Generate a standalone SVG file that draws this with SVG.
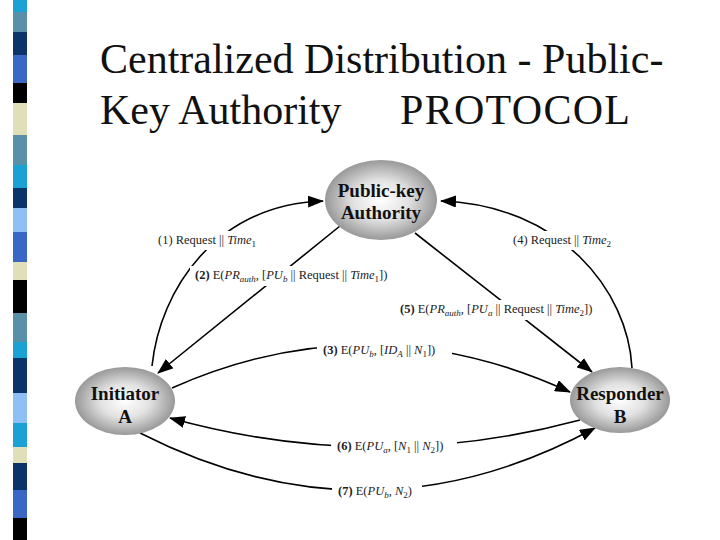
<svg xmlns="http://www.w3.org/2000/svg" width="720" height="540" viewBox="0 0 720 540">
<style>
.title{font-family:"Liberation Serif","Times New Roman",serif;font-size:42px;fill:#111}
.node text{font-family:"Liberation Serif","Times New Roman",serif;font-weight:bold;font-size:19px;fill:#111;text-anchor:middle}
.conn path{fill:none;stroke:#000;stroke-width:1.6}
.lbl{font-family:"Liberation Serif","Times New Roman",serif;font-size:12.5px;fill:#222}
.b{font-weight:bold}
.i{font-style:italic}
.sub{font-size:9px}
</style>
<defs>
<radialGradient id="g" cx="50%" cy="50%" r="55%">
<stop offset="0" stop-color="#ffffff"/>
<stop offset="0.45" stop-color="#e2e2e2"/>
<stop offset="1" stop-color="#8a8a8a"/>
</radialGradient>
<marker id="ah" markerUnits="userSpaceOnUse" markerWidth="16" markerHeight="12" refX="15" refY="6" orient="auto">
<path d="M0,0 L16,6 L0,12 Z" fill="#000"/>
</marker>
<mask id="gaps" maskUnits="userSpaceOnUse" x="0" y="0" width="720" height="540">
<rect width="720" height="540" fill="#fff"/>
<rect x="154" y="231" width="115" height="19" fill="#000"/>
<rect x="190" y="266" width="208" height="20" fill="#000"/>
<rect x="508" y="231" width="112" height="19" fill="#000"/>
<rect x="395" y="300" width="206" height="20" fill="#000"/>
<rect x="317" y="341" width="135" height="20" fill="#000"/>
<rect x="331" y="437" width="126" height="20" fill="#000"/>
<rect x="332" y="482" width="90" height="20" fill="#000"/>
</mask>
</defs>
<rect width="720" height="540" fill="#fff"/>
<g id="stripe">
<rect x="13" y="0" width="14" height="12" fill="#1ba1d4"/>
<rect x="13" y="12" width="14" height="20" fill="#5a8fa8"/>
<rect x="13" y="32" width="14" height="23" fill="#0b3468"/>
<rect x="13" y="55" width="14" height="28" fill="#3a66c4"/>
<rect x="13" y="83" width="14" height="20" fill="#000"/>
<rect x="13" y="103" width="14" height="32" fill="#e0dfb8"/>
<rect x="13" y="135" width="14" height="30" fill="#5a8fa8"/>
<rect x="13" y="165" width="14" height="23" fill="#1ba1d4"/>
<rect x="13" y="188" width="14" height="20" fill="#0b3468"/>
<rect x="13" y="208" width="14" height="24" fill="#8fc0f5"/>
<rect x="13" y="232" width="14" height="30" fill="#3a66c4"/>
<rect x="13" y="262" width="14" height="18" fill="#e0dfb8"/>
<rect x="13" y="280" width="14" height="33" fill="#000"/>
<rect x="13" y="313" width="14" height="29" fill="#5a8fa8"/>
<rect x="13" y="342" width="14" height="16" fill="#1ba1d4"/>
<rect x="13" y="358" width="14" height="35" fill="#0b3468"/>
<rect x="13" y="393" width="14" height="30" fill="#8fc0f5"/>
<rect x="13" y="423" width="14" height="24" fill="#1ba1d4"/>
<rect x="13" y="447" width="14" height="16" fill="#e0dfb8"/>
<rect x="13" y="463" width="14" height="27" fill="#0b3468"/>
<rect x="13" y="490" width="14" height="28" fill="#3a66c4"/>
<rect x="13" y="518" width="14" height="22" fill="#000"/>
</g>
<text class="title" x="100" y="73">Centralized Distribution - Public-</text>
<text class="title" x="100" y="124">Key Authority</text>
<text class="title" x="400" y="124" textLength="230">PROTOCOL</text>
<g class="conn" id="connectors" mask="url(#gaps)">
<path d="M152,366 C160,290 215,205 323,201" marker-end="url(#ah)"/>
<path d="M632,368 C628,290 560,205 441,201" marker-end="url(#ah)"/>
<path d="M340,226 L158,373" marker-end="url(#ah)"/>
<path d="M415,233 L592,372" marker-end="url(#ah)"/>
<path d="M172,388 Q370,300 570,392" marker-end="url(#ah)"/>
<path d="M580,420 Q375,475 170,418" marker-end="url(#ah)"/>
<path d="M140,433 Q370,550 595,428" marker-end="url(#ah)"/>
</g>
<g id="authority" class="node">
<ellipse cx="381" cy="200" rx="56" ry="40" fill="url(#g)"/>
<text x="381" y="197">Public-key</text>
<text x="381" y="219">Authority</text>
</g>
<g id="initiator" class="node">
<ellipse cx="125" cy="401" rx="50" ry="34" fill="url(#g)"/>
<text x="125" y="400">Initiator</text>
<text x="125" y="423">A</text>
</g>
<g id="responder" class="node">
<ellipse cx="620" cy="400" rx="50" ry="33" fill="url(#g)"/>
<text x="620" y="400">Responder</text>
<text x="620" y="423">B</text>
</g>
<g id="labels">
<text class="lbl" x="158" y="244">(1)  Request || <tspan class="i">Time</tspan><tspan class="sub" dy="3">1</tspan></text>
<text class="lbl" x="195" y="279"><tspan class="b">(2)</tspan> E(<tspan class="i">PR</tspan><tspan class="sub i" dy="3">auth</tspan><tspan dy="-3">, [</tspan><tspan class="i">PU</tspan><tspan class="sub i" dy="3">b</tspan><tspan dy="-3"> || Request || </tspan><tspan class="i">Time</tspan><tspan class="sub" dy="3">1</tspan><tspan dy="-3">])</tspan></text>
<text class="lbl" x="513" y="244">(4)  Request || <tspan class="i">Time</tspan><tspan class="sub" dy="3">2</tspan></text>
<text class="lbl" x="400" y="313"><tspan class="b">(5)</tspan> E(<tspan class="i">PR</tspan><tspan class="sub i" dy="3">auth</tspan><tspan dy="-3">, [</tspan><tspan class="i">PU</tspan><tspan class="sub i" dy="3">a</tspan><tspan dy="-3"> || Request || </tspan><tspan class="i">Time</tspan><tspan class="sub" dy="3">2</tspan><tspan dy="-3">])</tspan></text>
<text class="lbl" x="323" y="354"><tspan class="b">(3)</tspan> E(<tspan class="i">PU</tspan><tspan class="sub i" dy="3">b</tspan><tspan dy="-3">, [</tspan><tspan class="i">ID</tspan><tspan class="sub i" dy="3">A</tspan><tspan dy="-3"> || </tspan><tspan class="i">N</tspan><tspan class="sub" dy="3">1</tspan><tspan dy="-3">])</tspan></text>
<text class="lbl" x="337" y="450"><tspan class="b">(6)</tspan> E(<tspan class="i">PU</tspan><tspan class="sub i" dy="3">a</tspan><tspan dy="-3">, [</tspan><tspan class="i">N</tspan><tspan class="sub" dy="3">1</tspan><tspan dy="-3"> || </tspan><tspan class="i">N</tspan><tspan class="sub" dy="3">2</tspan><tspan dy="-3">])</tspan></text>
<text class="lbl" x="338" y="495"><tspan class="b">(7)</tspan> E(<tspan class="i">PU</tspan><tspan class="sub i" dy="3">b</tspan><tspan dy="-3">, </tspan><tspan class="i">N</tspan><tspan class="sub" dy="3">2</tspan><tspan dy="-3">)</tspan></text>
</g>
</svg>
